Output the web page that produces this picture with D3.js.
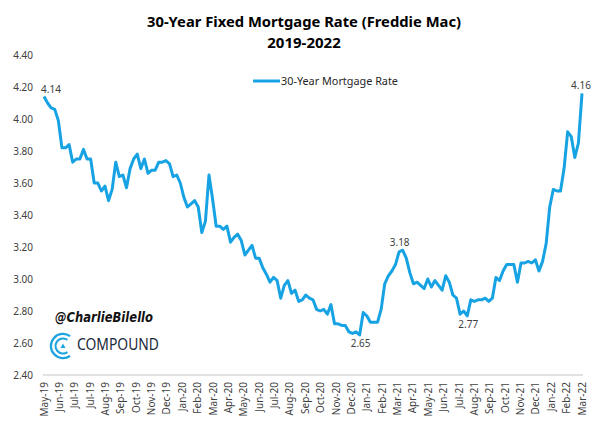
<!DOCTYPE html>
<html>
<head>
<meta charset="utf-8">
<script src="https://cdn.jsdelivr.net/npm/d3@7"></script>
<style>
  body { margin: 0; background: #fff; }
  svg { display: block; }
</style>
</head>
<body>
<div id="chart"></div>
<script>
// Weekly Freddie Mac PMMS 30-year fixed rate, 2 May 2019 .. 17 Mar 2022
const startDate = new Date(2019, 4, 2);
const rates = [
  // 2019
  4.14, 4.10, 4.07, 4.06, 3.99, 3.82, 3.82, 3.84, 3.73, 3.75, 3.75, 3.81, 3.75, 3.75, 3.60, 3.60,
  3.55, 3.58, 3.49, 3.56, 3.73, 3.64, 3.65, 3.57, 3.69, 3.75, 3.78, 3.69, 3.75, 3.66, 3.68, 3.68,
  3.73, 3.73, 3.74,
  // 2020
  3.72, 3.64, 3.65, 3.60, 3.51, 3.45, 3.47, 3.49, 3.45, 3.29, 3.36, 3.65, 3.50, 3.33, 3.33, 3.31,
  3.33, 3.23, 3.26, 3.28, 3.24, 3.15, 3.18, 3.21, 3.13, 3.13, 3.07, 3.03, 2.98, 3.01, 2.99, 2.88,
  2.96, 2.99, 2.91, 2.93, 2.86, 2.87, 2.90, 2.88, 2.87, 2.81, 2.80, 2.81, 2.78, 2.84, 2.72, 2.72,
  2.71, 2.71, 2.67, 2.66, 2.67,
  // 2021
  2.65, 2.79, 2.77, 2.73, 2.73, 2.73, 2.81, 2.97, 3.02, 3.05, 3.09, 3.17, 3.18, 3.13, 3.04, 2.97,
  2.98, 2.96, 2.94, 3.00, 2.95, 2.99, 2.96, 2.93, 3.02, 2.98, 2.90, 2.88, 2.78, 2.80, 2.77, 2.87,
  2.86, 2.87, 2.87, 2.88, 2.86, 2.88, 3.01, 2.99, 3.05, 3.09, 3.09, 3.09, 2.98, 3.10, 3.10, 3.11,
  3.10, 3.12, 3.05, 3.11,
  // 2022
  3.22, 3.45, 3.56, 3.55, 3.55, 3.69, 3.92, 3.89, 3.76, 3.85, 4.16
];
const tickLabels = [
  'May-19', 'Jun-19', 'Jul-19', 'Jul-19', 'Aug-19', 'Sep-19', 'Oct-19', 'Nov-19', 'Dec-19',
  'Jan-20', 'Feb-20', 'Mar-20', 'Apr-20', 'May-20', 'Jun-20', 'Jul-20', 'Aug-20', 'Sep-20',
  'Oct-20', 'Nov-20', 'Dec-20', 'Jan-21', 'Feb-21', 'Mar-21', 'Apr-21', 'May-21', 'Jun-21',
  'Jul-21', 'Aug-21', 'Sep-21', 'Oct-21', 'Nov-21', 'Dec-21', 'Jan-22', 'Feb-22', 'Mar-22'
];
const tickStepDays = 30;
const yTicks = [2.4, 2.6, 2.8, 3.0, 3.2, 3.4, 3.6, 3.8, 4.0, 4.2, 4.4];
// index of labelled points and where the label goes
const callouts = [
  { i: 0, pos: 'above', dx: 7 },
  { i: 88, pos: 'below', dx: 1 },
  { i: 100, pos: 'above', dx: -3 },
  { i: 118, pos: 'below', dx: 1 },
  { i: 150, pos: 'above', dx: -1 }
];

const W = 600, H = 429;
const FONT = '"Noto Sans", "Open Sans", Arial, sans-serif';
const LINE = '#17a3e3';
const TXT = '#404040';

const data = rates.map((v, i) => ({ date: d3.timeDay.offset(startDate, i * 7), value: v }));

const svg = d3.select('#chart').append('svg')
  .attr('width', W).attr('height', H)
  .attr('viewBox', `0 0 ${W} ${H}`);

svg.append('rect').attr('width', W).attr('height', H).attr('fill', '#fff');

const x = d3.scaleTime()
  .domain([startDate, data[data.length - 1].date])
  .range([44, 582]);
const y = d3.scaleLinear().domain([2.4, 4.4]).range([375, 55]);

// Title
svg.append('text')
  .attr('x', 304).attr('y', 27)
  .attr('text-anchor', 'middle')
  .attr('font-family', FONT).attr('font-size', 15).attr('font-weight', 'bold')
  .attr('fill', '#000')
  .attr('textLength', 314).attr('lengthAdjust', 'spacingAndGlyphs')
  .text('30-Year Fixed Mortgage Rate (Freddie Mac)');
svg.append('text')
  .attr('x', 304).attr('y', 48)
  .attr('text-anchor', 'middle')
  .attr('font-family', FONT).attr('font-size', 15).attr('font-weight', 'bold')
  .attr('fill', '#000')
  .text('2019-2022');

// Y axis labels (no axis line, no grid)
svg.append('g')
  .selectAll('text')
  .data(yTicks)
  .join('text')
  .attr('x', 33).attr('y', d => y(d))
  .attr('dy', '0.35em')
  .attr('text-anchor', 'end')
  .attr('font-family', FONT).attr('font-size', 10)
  .attr('fill', TXT)
  .text(d => d3.format('.2f')(d));

// X axis baseline
svg.append('line')
  .attr('x1', x.range()[0] - 1).attr('x2', x.range()[1] + 1)
  .attr('y1', y(2.4)).attr('y2', y(2.4))
  .attr('stroke', '#d9d9d9').attr('stroke-width', 1.5);

// X tick labels, rotated
svg.append('g')
  .selectAll('text')
  .data(tickLabels)
  .join('text')
  .attr('transform', (d, i) => {
    const tx = x(d3.timeDay.offset(startDate, i * tickStepDays));
    return `translate(${tx},382) rotate(-90)`;
  })
  .attr('dy', '0.35em')
  .attr('text-anchor', 'end')
  .attr('font-family', FONT).attr('font-size', 10)
  .attr('fill', TXT)
  .text(d => d);

// Series line
svg.append('path')
  .datum(data)
  .attr('fill', 'none')
  .attr('stroke', LINE)
  .attr('stroke-width', 3)
  .attr('stroke-linejoin', 'round')
  .attr('d', d3.line().x(d => x(d.date)).y(d => y(d.value)));

// Data callouts
svg.append('g')
  .selectAll('text')
  .data(callouts)
  .join('text')
  .attr('x', d => x(data[d.i].date) + d.dx)
  .attr('y', d => y(data[d.i].value) + (d.pos === 'above' ? -4 : 12))
  .attr('text-anchor', 'middle')
  .attr('font-family', FONT).attr('font-size', 10)
  .attr('fill', TXT)
  .text(d => d3.format('.2f')(data[d.i].value));

// Legend
svg.append('line')
  .attr('x1', 253).attr('x2', 280).attr('y1', 81).attr('y2', 81)
  .attr('stroke', LINE).attr('stroke-width', 3);
svg.append('text')
  .attr('x', 281).attr('y', 81).attr('dy', '0.35em')
  .attr('font-family', FONT).attr('font-size', 10.5)
  .attr('fill', '#262626')
  .attr('textLength', 117).attr('lengthAdjust', 'spacingAndGlyphs')
  .text('30-Year Mortgage Rate');

// Watermark
svg.append('text')
  .attr('x', 55).attr('y', 322)
  .attr('font-family', '"DejaVu Sans", sans-serif').attr('font-size', 14)
  .attr('font-weight', 'bold').attr('font-style', 'italic')
  .attr('fill', '#111')
  .attr('textLength', 98).attr('lengthAdjust', 'spacingAndGlyphs')
  .text('@CharlieBilello');

// Compound logo: two C-shaped arcs opening to the right, small triangle inside
const logo = svg.append('g').attr('transform', 'translate(63,346)');
const arc = d3.arc();
[[11, 13.2], [6.5, 8.5]].forEach(([r0, r1]) => {
  logo.append('path')
    .attr('d', arc({ innerRadius: r0, outerRadius: r1, startAngle: Math.PI * 0.8, endAngle: Math.PI * 2.2 }))
    .attr('fill', '#1aa3df');
});
logo.append('path')
  .attr('d', 'M-2.5,2 L2.5,2 L0,-2.5 Z')
  .attr('fill', '#1aa3df');
svg.append('text')
  .attr('x', 77).attr('y', 350)
  .attr('font-family', FONT).attr('font-size', 16)
  .attr('fill', '#1c2a3a')
  .attr('textLength', 82).attr('lengthAdjust', 'spacingAndGlyphs')
  .text('COMPOUND');
</script>
</body>
</html>
